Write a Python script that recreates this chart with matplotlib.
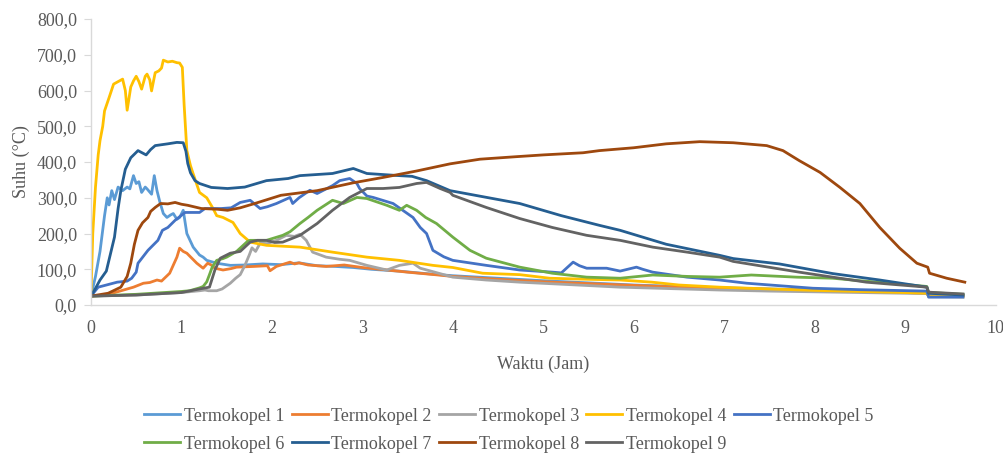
import matplotlib
matplotlib.use("Agg")
import matplotlib.pyplot as plt
from matplotlib.ticker import FuncFormatter

# -------------------------
# Data (time in hours, temperature in deg C)
# -------------------------
t1 = [0, 0.05, 0.1, 0.15, 0.18, 0.2, 0.23, 0.26, 0.3, 0.35, 0.4, 0.43, 0.47, 0.5, 0.53,
      0.56, 0.6, 0.62, 0.67, 0.7, 0.73, 0.76, 0.8, 0.84, 0.88, 0.91, 0.95, 0.98, 1.02,
      1.06, 1.13, 1.2, 1.24, 1.28, 1.39, 1.54, 1.7, 1.9, 2.1, 2.3, 2.5, 2.7, 2.9, 3.1,
      3.4, 3.7, 4.0, 4.5, 5.0, 5.5, 6.0, 6.5, 7.0, 7.5, 8.0, 8.5, 9.0, 9.24, 9.26, 9.64]
tk1 = [25, 80, 150, 250, 300, 280, 320, 295, 330, 320, 330, 325, 362, 340, 345,
       315, 330, 325, 310, 362, 320, 290, 256, 245, 252, 256, 240, 245, 265,
       200, 162, 140, 134, 125, 117, 111, 112, 115, 113, 118, 110, 108, 105, 100,
       95, 88, 82, 75, 68, 62, 56, 52, 48, 45, 42, 39, 37, 35, 28, 26]

t2 = [0, 0.17, 0.36, 0.47, 0.58, 0.65, 0.73, 0.78, 0.87, 0.95, 0.98, 1.02, 1.06, 1.17,
      1.24, 1.29, 1.33, 1.37, 1.46, 1.55, 1.61, 1.8, 1.95, 1.98, 2.05, 2.1, 2.2, 2.25,
      2.3, 2.4, 2.6, 2.8, 3.0, 3.2, 3.5, 3.8, 4.0, 4.5, 5.0, 5.5, 6.0, 6.5, 7.0, 7.5,
      8.0, 8.5, 9.0, 9.24, 9.26, 9.64]
tk2 = [25, 28, 42, 50, 61, 63, 70, 67, 89, 134, 159, 150, 145, 117,
       103, 117, 112, 103, 98, 102, 106, 108, 110, 96, 108, 112, 120, 115,
       118, 112, 108, 112, 105, 100, 92, 85, 80, 72, 65, 60, 55, 50, 47, 44,
       41, 38, 35, 33, 28, 26]

t3 = [0, 0.5, 1.0, 1.2, 1.26, 1.3, 1.39, 1.45, 1.54, 1.6, 1.65, 1.7, 1.75, 1.78, 1.82,
      1.87, 1.95, 2.05, 2.16, 2.25, 2.31, 2.38, 2.45, 2.6, 2.75, 2.86, 3.05, 3.27, 3.41,
      3.56, 3.64, 3.8, 4.0, 4.37, 4.74, 5.3, 5.85, 6.4, 6.95, 7.5, 8.0, 8.5, 9.0, 9.24,
      9.26, 9.64]
tk3 = [25, 28, 35, 40, 42, 40, 40, 45, 61, 75, 85, 110, 140, 160, 150,
       173, 172, 181, 195, 192, 198, 181, 148, 134, 128, 125, 111, 98, 111,
       117, 103, 92, 78, 70, 64, 57, 50, 46, 42, 39, 37, 35, 33, 32,
       27, 26]

t4 = [0, 0.02, 0.05, 0.08, 0.1, 0.13, 0.15, 0.2, 0.25, 0.3, 0.35, 0.38, 0.4, 0.44, 0.47,
      0.5, 0.53, 0.56, 0.6, 0.62, 0.65, 0.67, 0.71, 0.75, 0.78, 0.8, 0.85, 0.9, 0.95,
      0.98, 1.01, 1.03, 1.06, 1.1, 1.13, 1.2, 1.28, 1.35, 1.39, 1.46, 1.57, 1.65, 1.76,
      1.94, 2.31, 2.67, 3.05, 3.41, 3.78, 4.0, 4.33, 4.74, 5.07, 5.5, 5.85, 6.2, 6.5,
      6.95, 7.5, 8.0, 8.5, 9.0, 9.24, 9.26, 9.64]
tk4 = [25, 200, 330, 420, 460, 500, 543, 580, 618, 625, 632, 600, 545, 610, 627,
       640, 625, 604, 640, 646, 630, 599, 650, 655, 663, 685, 680, 682, 678,
       677, 665, 560, 432, 390, 367, 315, 300, 270, 250, 245, 231, 200, 176,
       167, 162, 148, 134, 125, 111, 105, 89, 85, 75, 72, 70, 64, 56,
       50, 45, 41, 38, 35, 33, 24, 23]

t5 = [0, 0.08, 0.17, 0.29, 0.4, 0.45, 0.5, 0.52, 0.63, 0.74, 0.79, 0.85, 0.93, 1.04,
      1.15, 1.2, 1.26, 1.44, 1.55, 1.65, 1.76, 1.87, 1.95, 2.05, 2.2, 2.23, 2.3, 2.42,
      2.5, 2.67, 2.75, 2.86, 2.94, 2.97, 3.05, 3.12, 3.34, 3.56, 3.64, 3.71, 3.78, 3.9,
      4.0, 4.37, 4.74, 5.1, 5.2, 5.33, 5.4, 5.48, 5.7, 5.85, 6.03, 6.1, 6.21, 6.59,
      6.95, 7.25, 7.98, 8.5, 9.24, 9.26, 9.64]
tk5 = [25, 50, 56, 64, 67, 75, 92, 117, 153, 181, 209, 217, 237, 259,
       259, 259, 270, 270, 272, 287, 293, 270, 275, 284, 301, 284, 300, 321,
       312, 334, 348, 354, 340, 326, 305, 301, 284, 245, 217, 200, 153, 135,
       125, 111, 98, 92, 90, 120, 110, 103, 103, 95, 106, 100, 92, 78,
       70, 61, 47, 43, 39, 22, 22]

t6 = [0, 0.5, 1.0, 1.09, 1.2, 1.24, 1.28, 1.31, 1.34, 1.39, 1.46, 1.5, 1.61, 1.73, 1.76,
      1.94, 2.12, 2.2, 2.31, 2.4, 2.5, 2.67, 2.79, 2.94, 3.05, 3.27, 3.41, 3.49, 3.6,
      3.7, 3.82, 4.0, 4.19, 4.37, 4.74, 5.1, 5.48, 5.85, 6.21, 6.6, 6.95, 7.3, 7.8,
      8.2, 8.5, 8.8, 9.24, 9.26, 9.64]
tk6 = [25, 30, 38, 40, 48, 52, 65, 85, 106, 125, 130, 134, 150, 178, 181,
       181, 195, 205, 228, 245, 265, 293, 284, 301, 298, 279, 265, 279, 265,
       245, 228, 190, 153, 131, 106, 89, 78, 75, 84, 80, 78, 84, 78,
       75, 68, 62, 52, 35, 30]

t7 = [0, 0.04, 0.1, 0.17, 0.26, 0.3, 0.33, 0.38, 0.44, 0.52, 0.58, 0.61, 0.66, 0.71,
      0.85, 0.95, 1.02, 1.05, 1.07, 1.1, 1.15, 1.2, 1.33, 1.51, 1.7, 1.94, 2.18, 2.31,
      2.67, 2.9, 3.05, 3.41, 3.55, 3.71, 3.97, 4.74, 5.2, 5.62, 5.85, 6.36, 6.95, 7.1,
      7.61, 8.2, 8.72, 9.24, 9.26, 9.64]
tk7 = [25, 42, 70, 95, 190, 270, 320, 380, 412, 432, 424, 420, 435, 446,
       451, 455, 454, 430, 396, 370, 348, 340, 329, 326, 330, 348, 354, 362,
       368, 382, 368, 362, 360, 348, 320, 284, 250, 223, 209, 170, 139, 130,
       115, 88, 70, 50, 33, 28]

t8 = [0, 0.19, 0.33, 0.4, 0.44, 0.48, 0.52, 0.57, 0.63, 0.66, 0.71, 0.77, 0.85, 0.93,
      1.0, 1.07, 1.22, 1.4, 1.51, 1.65, 1.81, 2.1, 2.5, 2.9, 3.23, 3.6, 3.97, 4.3, 4.7,
      5.0, 5.44, 5.62, 6.0, 6.36, 6.73, 7.1, 7.47, 7.65, 7.83, 8.06, 8.28, 8.5, 8.72,
      8.94, 9.13, 9.25, 9.27, 9.46, 9.66]
tk8 = [25, 33, 50, 80, 117, 170, 209, 230, 245, 262, 273, 284, 283, 287,
       282, 279, 270, 268, 265, 272, 284, 307, 320, 342, 357, 375, 395, 408, 415,
       420, 426, 432, 440, 451, 457, 454, 446, 432, 404, 371, 329, 284, 217,
       159, 117, 106, 89, 75, 64]

t9 = [0, 0.5, 1.0, 1.2, 1.31, 1.37, 1.43, 1.54, 1.65, 1.76, 1.84, 1.94, 2.03, 2.12,
      2.31, 2.5, 2.67, 2.86, 3.05, 3.23, 3.41, 3.6, 3.71, 3.86, 3.97, 4.0, 4.37, 4.74,
      5.1, 5.48, 5.85, 6.21, 6.59, 6.95, 7.1, 7.83, 8.57, 9.24, 9.26, 9.64]
tk9 = [25, 28, 35, 45, 50, 98, 131, 145, 150, 176, 181, 181, 175, 176,
       195, 228, 265, 301, 326, 326, 329, 340, 343, 326, 315, 307, 273, 242,
       217, 195, 181, 162, 148, 134, 122, 92, 64, 50, 36, 31]

labels = [f"Termokopel {i}" for i in range(1, 10)]
times = [t1, t2, t3, t4, t5, t6, t7, t8, t9]
temps = [tk1, tk2, tk3, tk4, tk5, tk6, tk7, tk8, tk9]
colors = ["#5B9BD5", "#ED7D31", "#A5A5A5", "#FFC000", "#4472C4",
          "#70AD47", "#255E91", "#9E480E", "#636363"]

x_ticks = list(range(0, 11))
y_ticks = list(range(0, 801, 100))

# -------------------------
# Figure
# -------------------------
plt.rcParams["font.family"] = ["Liberation Serif", "DejaVu Serif"]
fig = plt.figure(figsize=(10.04, 4.65), dpi=100)
ax = fig.add_axes([0.0906, 0.344, 0.901, 0.615])

lines = []
for t, v, c, lab in zip(times, temps, colors, labels):
    ln, = ax.plot(t, v, color=c, linewidth=2.0, label=lab)
    lines.append(ln)

ax.set_xlim(0, 10)
ax.set_ylim(0, 800)
ax.set_xticks(x_ticks)
ax.set_yticks(y_ticks)
ax.yaxis.set_major_formatter(FuncFormatter(lambda v, p: f"{v:.1f}".replace(".", ",")))

for s in ["top", "right"]:
    ax.spines[s].set_visible(False)
for s in ["left", "bottom"]:
    ax.spines[s].set_color("#D9D9D9")
    ax.spines[s].set_linewidth(1.0)

ax.tick_params(axis="y", length=5, color="#D9D9D9", labelcolor="#595959",
               labelsize=13, pad=5)
ax.tick_params(axis="x", length=0, labelcolor="#595959", labelsize=13, pad=11)

ax.set_xlabel("Waktu (Jam)", fontsize=13, color="#595959", labelpad=13)
ax.set_ylabel("Suhu (°C)", fontsize=13, color="#595959", labelpad=5)

# legend in row order: two rows, five columns
order = [0, 5, 1, 6, 2, 7, 3, 8, 4]
fig.legend([lines[i] for i in order], [labels[i] for i in order],
           loc="center", bbox_to_anchor=(0.507, 0.075), ncol=5, frameon=False,
           fontsize=13, handlelength=2.0, handletextpad=0.2, columnspacing=0.4,
           labelcolor="#595959", labelspacing=0.6)

fig.savefig("out.png", dpi=100)
